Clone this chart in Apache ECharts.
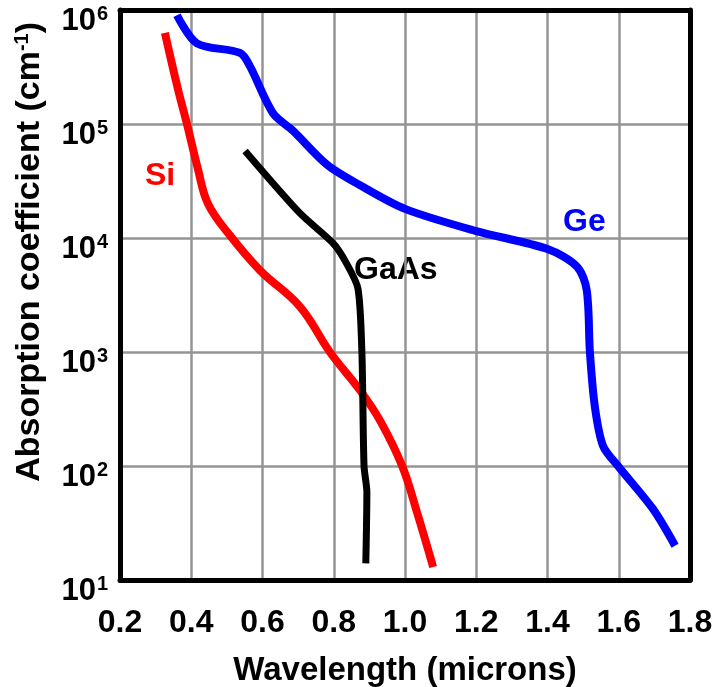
<!DOCTYPE html>
<html lang="en">
<head>
    <meta charset="UTF-8">
    <title>Absorption coefficient</title>
    <script src="https://cdn.jsdelivr.net/npm/echarts@6/dist/echarts.min.js"></script>
    <style>
        html, body { margin: 0; padding: 0; background: #fff; }
        #chart { width: 724px; height: 687px; }
    </style>
</head>
<body>
<div id="chart"></div>
<script>
// wavelength (microns) / absorption coefficient (cm^-1)
const siX = [0.326, 0.363, 0.388, 0.419, 0.447, 0.509, 0.593, 0.705, 0.789, 0.874, 0.930, 0.992, 1.034, 1.079];
const siY = [6.3e5, 2.0e5, 1.0e5, 4.0e4, 2.0e4, 1.05e4, 5.2e3, 2.5e3, 1.0e3, 4.6e2, 2.5e2, 1.0e2, 39, 13];

const geX = [0.360, 0.416, 0.537, 0.565, 0.629, 0.686, 0.781, 0.874, 1.000, 1.200, 1.400, 1.483, 1.510, 1.519, 1.533, 1.556, 1.598, 1.696, 1.758];
const geY = [9.0e5, 5.1e5, 4.2e5, 3.2e5, 1.25e5, 8.7e4, 4.4e4, 2.9e4, 1.8e4, 1.15e4, 8.0e3, 5.6e3, 3.5e3, 1.0e3, 330, 150, 100, 42, 20];

const gaasX = [0.551, 0.705, 0.798, 0.837, 0.868, 0.879, 0.885, 0.893, 0.890];
const gaasY = [5.8e4, 1.65e4, 9.0e3, 5.9e3, 3.6e3, 1.0e3, 1.0e2, 59, 14];

const xTicks = [0.2, 0.4, 0.6, 0.8, 1.0, 1.2, 1.4, 1.6, 1.8];

function pairs(xs, ys) {
    return xs.map((x, i) => [x, ys[i]]);
}

const chart = echarts.init(document.getElementById('chart'));
const font = 'Liberation Sans, Arial, sans-serif';
const frame = { show: true, onZero: false, lineStyle: { color: '#000', width: 5 } };

chart.setOption({
    animation: false,
    backgroundColor: '#fff',
    grid: { left: 120, right: 34, top: 10, bottom: 107, outerBoundsMode: 'none', containLabel: false },
    xAxis: [
        {
            type: 'value', min: 0.2, max: 1.8, interval: 0.2,
            axisLine: frame,
            axisTick: { show: false },
            splitLine: { show: true, lineStyle: { color: '#949494', width: 2.5 } },
            axisLabel: {
                margin: 27, color: '#000', fontFamily: font, fontWeight: 'bold', fontSize: 32,
                formatter: v => xTicks.find(t => Math.abs(t - v) < 1e-6).toFixed(1)
            },
            name: 'Wavelength (microns)',
            nameLocation: 'middle', nameGap: 74,
            nameTextStyle: { color: '#000', fontFamily: font, fontWeight: 'bold', fontSize: 33 }
        },
        {
            type: 'value', position: 'top', min: 0.2, max: 1.8, interval: 0.2,
            axisLine: frame, axisTick: { show: false }, axisLabel: { show: false }, splitLine: { show: false }
        }
    ],
    yAxis: [
        {
            type: 'log', logBase: 10, min: 10, max: 1e6,
            axisLine: frame,
            axisTick: { show: false },
            splitLine: { show: true, lineStyle: { color: '#949494', width: 2.5 } },
            axisLabel: {
                margin: 12, color: '#000',
                padding: [22, 0, 0, 0],
                formatter: v => '{b|10}{s|' + Math.round(Math.log10(v)) + '}',
                rich: {
                    b: { fontFamily: font, fontWeight: 'bold', fontSize: 31, color: '#000' },
                    s: { fontFamily: font, fontWeight: 'bold', fontSize: 20, color: '#000', verticalAlign: 'top', padding: [0, 0, 14, 1] }
                }
            }
        },
        {
            type: 'log', logBase: 10, min: 10, max: 1e6, position: 'right',
            axisLine: frame, axisTick: { show: false }, axisLabel: { show: false }, splitLine: { show: false }
        }
    ],
    graphic: [
        {
            type: 'text', left: 12, top: 22,
            rotation: Math.PI / 2,
            style: {
                text: '{m|Absorption coefficient (cm}{s|-1}{m|)}',
                rich: {
                    m: { fontFamily: font, fontWeight: 'bold', fontSize: 34, fill: '#000' },
                    s: { fontFamily: font, fontWeight: 'bold', fontSize: 20, fill: '#000', verticalAlign: 'top', padding: [0, 0, 15, 0] }
                }
            }
        },
        { type: 'text', left: 145, top: 160, style: { text: 'Si', fill: '#ff0000', fontFamily: font, fontWeight: 'bold', fontSize: 32 } },
        { type: 'text', left: 354, top: 254, style: { text: 'GaAs', fill: '#000', fontFamily: font, fontWeight: 'bold', fontSize: 32 } },
        { type: 'text', left: 563, top: 206, style: { text: 'Ge', fill: '#0000ff', fontFamily: font, fontWeight: 'bold', fontSize: 32 } }
    ],
    series: [
        {
            name: 'Si', type: 'line', data: pairs(siX, siY), smooth: 0.4,
            showSymbol: false, lineStyle: { color: '#ff0000', width: 8 }
        },
        {
            name: 'Ge', type: 'line', data: pairs(geX, geY), smooth: 0.3,
            showSymbol: false, lineStyle: { color: '#0000ff', width: 8 }
        },
        {
            name: 'GaAs', type: 'line', data: pairs(gaasX, gaasY), smooth: 0.25,
            showSymbol: false, lineStyle: { color: '#000', width: 7 }
        }
    ]
});
</script>
</body>
</html>
